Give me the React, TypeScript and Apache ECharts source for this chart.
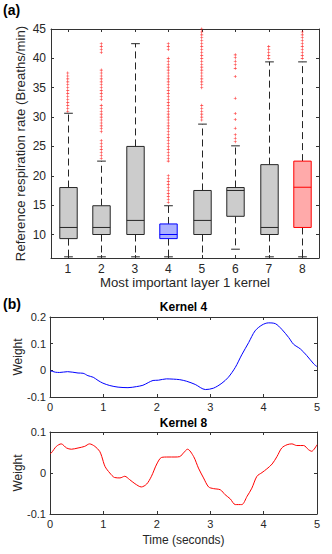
import React, { useEffect, useRef } from "react";
import * as echarts from "echarts";

// ---------- data ----------
const categories = ["1", "2", "3", "4", "5", "6", "7", "8"];
const lowerWhisker = [6.2, 6.2, 6.2, 6.2, 5.0, 7.5, 6.2, 6.2];
const q1 = [9.3, 10.0, 10.0, 9.3, 10.0, 13.1, 10.0, 11.2];
const medians = [11.2, 11.2, 12.4, 10.0, 12.4, 17.5, 11.2, 18.05];
const q3 = [18.0, 14.9, 25.0, 11.8, 17.5, 18.0, 21.9, 22.5];
const upperWhisker = [30.65, 22.5, 42.5, 14.9, 28.8, 25.1, 39.4, 39.4];

const outliers1 = [31, 31.5, 32, 32.5, 33, 33.5, 34, 34.5, 35, 35.5, 36, 36.5, 37, 37.5];
const outliers2 = [
  23, 23.5, 24, 24.5, 25, 25.5, 26, 27.5, 28, 28.5, 29, 29.5, 30, 30.5, 31, 31.5, 32,
  33, 33.5, 34, 34.5, 35, 35.5, 36, 36.5, 37, 37.5, 38, 41, 41.5, 42, 42.5,
];
const outliers3: number[] = [];
const outliers4 = [
  15.5, 16, 16.5, 17, 17.5, 18, 18.5, 19, 19.5, 20, 22.5, 23, 23.5, 24, 24.5, 25, 25.5,
  26, 26.5, 27, 27.5, 28, 28.5, 29, 29.5, 30, 30.5, 31, 31.5, 32, 32.5, 33, 33.5, 34,
  34.5, 35, 35.5, 36, 36.5, 37, 37.5, 38, 38.5, 39, 39.5, 40, 41.5, 42, 42.5,
];
const outliers5 = [
  29.5, 30, 30.5, 31, 31.5, 32, 35, 35.5, 36, 36.5, 37, 37.5, 38, 38.5, 39, 39.5, 40,
  40.5, 41, 41.5, 42, 42.5, 43, 43.5, 44, 44.5, 45,
];
const outliers6 = [25.8, 26.4, 27.0, 28.1, 29.6, 30.6, 33.2, 36.9, 38.3, 38.9, 39.5, 40.1, 40.6];
const outliers7 = [40, 40.5, 41, 41.5, 42];
const outliers8 = [40, 40.5, 41, 41.5, 42, 42.5, 43, 43.5, 44, 44.5];
const outlierGroups = [outliers1, outliers2, outliers3, outliers4, outliers5, outliers6, outliers7, outliers8];

const kernel4Time = [
  0, 0.05, 0.1, 0.18, 0.33, 0.525, 0.62, 0.71, 0.81, 0.9, 0.99, 1.12, 1.275, 1.46, 1.62,
  1.74, 1.84, 1.93, 2.03, 2.18, 2.31, 2.43, 2.56, 2.72, 2.91, 3.06, 3.22, 3.34, 3.47,
  3.59, 3.72, 3.84, 3.97, 4.09, 4.22, 4.34, 4.47, 4.56, 4.69, 4.81, 4.94, 5.0,
];
const kernel4Weight = [
  -0.002, -0.004, -0.007, -0.008, -0.005, -0.01, -0.011, -0.02, -0.026, -0.038, -0.048,
  -0.057, -0.063, -0.065, -0.061, -0.056, -0.046, -0.038, -0.037, -0.032, -0.033, -0.035,
  -0.041, -0.053, -0.072, -0.067, -0.048, -0.026, 0.011, 0.058, 0.104, 0.148, 0.17, 0.178,
  0.175, 0.154, 0.123, 0.098, 0.08, 0.055, 0.024, 0.014,
];

const kernel8Time = [
  0, 0.025, 0.12, 0.21, 0.31, 0.4, 0.525, 0.65, 0.74, 0.84, 0.93, 0.97, 1.03, 1.12, 1.21,
  1.31, 1.4, 1.49, 1.59, 1.71, 1.81, 1.9, 2.0, 2.09, 2.21, 2.34, 2.43, 2.5, 2.575, 2.69,
  2.78, 2.875, 2.97, 3.06, 3.19, 3.28, 3.375, 3.47, 3.59, 3.69, 3.78, 3.875, 3.97, 4.06,
  4.16, 4.25, 4.34, 4.44, 4.53, 4.62, 4.75, 4.84, 4.9, 5.0,
];
const kernel8Weight = [
  0.047, 0.049, 0.065, 0.071, 0.061, 0.058, 0.061, 0.065, 0.071, 0.065, 0.053, 0.04, 0.016,
  0.0, -0.011, -0.012, -0.008, -0.016, -0.026, -0.034, -0.027, -0.008, 0.022, 0.038, 0.039,
  0.039, 0.04, 0.049, 0.058, 0.04, 0.012, -0.012, -0.034, -0.038, -0.041, -0.053, -0.063,
  -0.077, -0.077, -0.057, -0.037, -0.008, 0.001, 0.01, 0.022, 0.04, 0.061, 0.069, 0.071,
  0.067, 0.067, 0.057, 0.053, 0.069,
];

const topYMin = 6;
const topYMax = 45;

// ---------- styles ----------
const FONT = "'Liberation Sans', Arial, Helvetica, sans-serif";
const TXT = "#262626";
const AX = "#333333";
const boxStyles = [
  { fill: "#cccccc", stroke: "#262626" },
  { fill: "#cccccc", stroke: "#262626" },
  { fill: "#cccccc", stroke: "#262626" },
  { fill: "#aab0ff", stroke: "#0000ff" },
  { fill: "#cccccc", stroke: "#262626" },
  { fill: "#cccccc", stroke: "#262626" },
  { fill: "#cccccc", stroke: "#262626" },
  { fill: "#ffaaaa", stroke: "#ff0000" },
];

export default function App() {
  const ref = useRef<HTMLDivElement>(null);

  useEffect(() => {
    if (!ref.current) return;
    const chart = echarts.init(ref.current, null, { renderer: "svg" });

    const boxData = categories.map((_, i) => [
      i,
      lowerWhisker[i],
      q1[i],
      medians[i],
      q3[i],
      upperWhisker[i],
    ]);
    const outlierData: number[][] = [];
    outlierGroups.forEach((g, i) => g.forEach((v) => outlierData.push([i, v])));

    const axisLineStyle = { show: true, onZero: false, lineStyle: { color: AX, width: 1 } };
    const tickIn = { show: true, inside: true, length: 3, lineStyle: { color: AX } };

    const mkFrameX = (grid: number, type: "category" | "value", extra: any) => ({
      gridIndex: grid,
      position: "top",
      type,
      axisLine: axisLineStyle,
      axisTick: tickIn,
      axisLabel: { show: false },
      splitLine: { show: false },
      ...extra,
    });
    const mkFrameY = (grid: number, extra: any) => ({
      gridIndex: grid,
      position: "right",
      type: "value",
      axisLine: axisLineStyle,
      axisTick: tickIn,
      axisLabel: { show: false },
      splitLine: { show: false },
      ...extra,
    });

    const topY = {
      min: topYMin,
      max: topYMax,
      splitNumber: 8,
    };

    const option: any = {
      animation: false,
      textStyle: { fontFamily: FONT, color: TXT },
      grid: [
        { left: 51, top: 29, width: 268, height: 229 },
        { left: 50, top: 317, width: 267, height: 80 },
        { left: 50, top: 432, width: 267, height: 82 },
      ],
      xAxis: [
        {
          gridIndex: 0,
          type: "category",
          data: categories,
          position: "bottom",
          axisLine: axisLineStyle,
          axisTick: { ...tickIn, alignWithLabel: true },
          axisLabel: { fontSize: 12, color: TXT, margin: 5, fontFamily: FONT },
          splitLine: { show: false },
          name: "Most important layer 1 kernel",
          nameLocation: "middle",
          nameGap: 18,
          nameMoveOverlap: false,
          nameTextStyle: { fontSize: 13.2, color: TXT, fontFamily: FONT },
        },
        mkFrameX(0, "category", {
          data: categories,
          axisTick: { ...tickIn, alignWithLabel: true },
        }),
        {
          gridIndex: 1,
          type: "value",
          min: 0,
          max: 5,
          interval: 1,
          position: "bottom",
          axisLine: axisLineStyle,
          axisTick: tickIn,
          axisLabel: { fontSize: 11, color: TXT, margin: 4, fontFamily: FONT },
          splitLine: { show: false },
        },
        mkFrameX(1, "value", { min: 0, max: 5, interval: 1 }),
        {
          gridIndex: 2,
          type: "value",
          min: 0,
          max: 5,
          interval: 1,
          position: "bottom",
          axisLine: axisLineStyle,
          axisTick: tickIn,
          axisLabel: { fontSize: 11, color: TXT, margin: 4, fontFamily: FONT },
          splitLine: { show: false },
          name: "Time (seconds)",
          nameLocation: "middle",
          nameGap: 20,
          nameMoveOverlap: false,
          nameTextStyle: { fontSize: 12, color: TXT, fontFamily: FONT },
        },
        mkFrameX(2, "value", { min: 0, max: 5, interval: 1 }),
      ],
      yAxis: [
        {
          gridIndex: 0,
          type: "value",
          ...topY,
          axisLine: axisLineStyle,
          axisTick: tickIn,
          axisLabel: {
            fontSize: 12,
            color: TXT,
            margin: 5,
            fontFamily: FONT,
            showMinLabel: false,
            formatter: (v: number) => (v % 5 === 0 ? String(v) : ""),
          },
          splitLine: { show: false },
          name: "Reference respiration rate (Breaths/min)",
          nameLocation: "middle",
          nameGap: 24,
          nameMoveOverlap: false,
          nameTextStyle: { fontSize: 13.2, color: TXT, fontFamily: FONT },
        },
        mkFrameY(0, { ...topY }),
        {
          gridIndex: 1,
          type: "value",
          min: -0.1,
          max: 0.2,
          interval: 0.1,
          axisLine: axisLineStyle,
          axisTick: tickIn,
          axisLabel: { fontSize: 11, color: TXT, margin: 4, fontFamily: FONT },
          splitLine: { show: false },
          name: "Weight",
          nameLocation: "middle",
          nameGap: 26,
          nameMoveOverlap: false,
          nameTextStyle: { fontSize: 12, color: TXT, fontFamily: FONT },
        },
        mkFrameY(1, { min: -0.1, max: 0.2, interval: 0.1 }),
        {
          gridIndex: 2,
          type: "value",
          min: -0.1,
          max: 0.1,
          interval: 0.1,
          axisLine: axisLineStyle,
          axisTick: tickIn,
          axisLabel: { fontSize: 11, color: TXT, margin: 4, fontFamily: FONT },
          splitLine: { show: false },
          name: "Weight",
          nameLocation: "middle",
          nameGap: 26,
          nameMoveOverlap: false,
          nameTextStyle: { fontSize: 12, color: TXT, fontFamily: FONT },
        },
        mkFrameY(2, { min: -0.1, max: 0.1, interval: 0.1 }),
      ],
      series: [
        {
          type: "custom",
          xAxisIndex: 0,
          yAxisIndex: 0,
          data: boxData,
          encode: { x: 0, y: [1, 2, 3, 4, 5] },
          z: 2,
          renderItem: (params: any, api: any) => {
            const i = api.value(0);
            const lowV = api.value(1);
            const low = api.coord([i, Math.max(lowV, topYMin)]);
            const b1 = api.coord([i, api.value(2)]);
            const md = api.coord([i, api.value(3)]);
            const b3 = api.coord([i, api.value(4)]);
            const high = api.coord([i, api.value(5)]);
            const bw = api.size([1, 0])[0] * 0.52;
            const cx = Math.round(b1[0]) + 0.5;
            const cap = bw / 4;
            const st = boxStyles[i];
            const dash = { stroke: "#262626", lineWidth: 1, lineDash: [7, 4], fill: null };
            const solid = { stroke: "#262626", lineWidth: 1, fill: null };
            const children: any[] = [
              { type: "line", shape: { x1: cx, y1: b3[1], x2: cx, y2: high[1] }, style: dash },
              { type: "line", shape: { x1: cx, y1: b1[1], x2: cx, y2: low[1] }, style: dash },
              { type: "line", shape: { x1: cx - cap, y1: high[1], x2: cx + cap, y2: high[1] }, style: solid },
            ];
            if (lowV >= topYMin) {
              children.push({
                type: "line",
                shape: { x1: cx - cap, y1: low[1], x2: cx + cap, y2: low[1] },
                style: solid,
              });
            }
            children.push({
              type: "rect",
              shape: { x: cx - bw / 2, y: b3[1], width: bw, height: b1[1] - b3[1] },
              style: { fill: st.fill, stroke: st.stroke, lineWidth: 1 },
            });
            children.push({
              type: "line",
              shape: { x1: cx - bw / 2, y1: md[1], x2: cx + bw / 2, y2: md[1] },
              style: { stroke: st.stroke, lineWidth: 1 },
            });
            return { type: "group", children };
          },
        },
        {
          type: "scatter",
          xAxisIndex: 0,
          yAxisIndex: 0,
          data: outlierData,
          symbol: "path://M2,0H3V2H5V3H3V5H2V3H0V2H2Z",
          symbolSize: 3,
          itemStyle: { color: "#ff0000" },
          z: 3,
        },
        {
          type: "line",
          xAxisIndex: 2,
          yAxisIndex: 2,
          data: kernel4Time.map((t, i) => [t, kernel4Weight[i]]),
          showSymbol: false,
          smooth: 0.3,
          lineStyle: { color: "#0000ff", width: 1 },
        },
        {
          type: "line",
          xAxisIndex: 4,
          yAxisIndex: 4,
          data: kernel8Time.map((t, i) => [t, kernel8Weight[i]]),
          showSymbol: false,
          smooth: 0.3,
          lineStyle: { color: "#ff0000", width: 1 },
        },
      ],
      graphic: [
        {
          type: "text",
          x: 3,
          y: 10,
          style: { text: "(a)", fontSize: 14, fontWeight: "bold", fill: "#000", fontFamily: FONT, textVerticalAlign: "middle" },
        },
        {
          type: "text",
          x: 3,
          y: 304,
          style: { text: "(b)", fontSize: 14, fontWeight: "bold", fill: "#000", fontFamily: FONT, textVerticalAlign: "middle" },
        },
        {
          type: "text",
          x: 183.5,
          y: 307,
          style: { text: "Kernel 4", fontSize: 12, fontWeight: "bold", fill: "#000", fontFamily: FONT, textAlign: "center", textVerticalAlign: "middle" },
        },
        {
          type: "text",
          x: 183.5,
          y: 423,
          style: { text: "Kernel 8", fontSize: 12, fontWeight: "bold", fill: "#000", fontFamily: FONT, textAlign: "center", textVerticalAlign: "middle" },
        },
      ],
    };

    chart.setOption(option);
    return () => chart.dispose();
  }, []);

  return (
    <div
      ref={ref}
      style={{ position: "fixed", left: 0, top: 0, width: 332, height: 554, background: "#fff" }}
    />
  );
}
